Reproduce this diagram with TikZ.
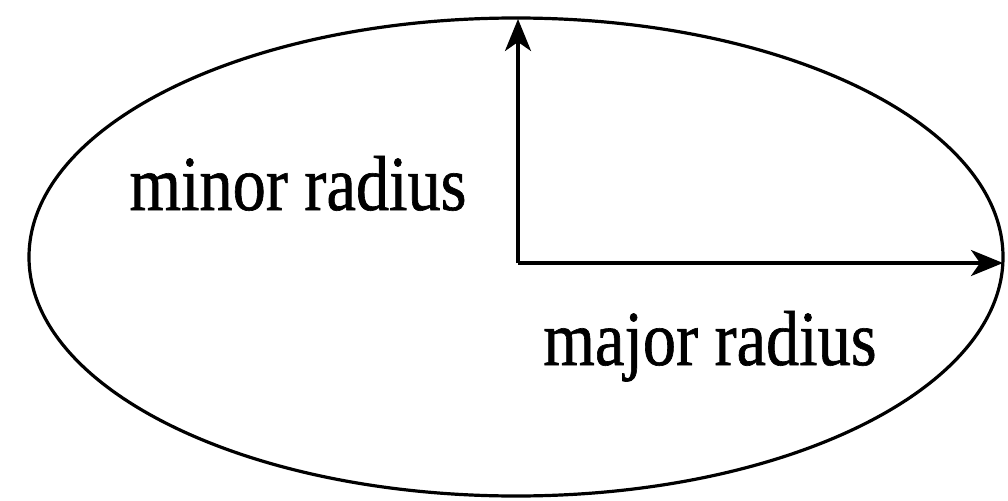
\documentclass[tikz,border=0pt]{standalone}
\usepackage{fontspec}
\setmainfont{Liberation Serif}
\newfontfamily\lblfont[FakeStretch=0.85,FakeBold=0.8]{Liberation Serif}
\usetikzlibrary{arrows.meta}
\begin{document}
\begin{tikzpicture}[x=1pt,y=-1pt,
  outline/.style={line width=3.2pt},
  radiusarrow/.style={line width=3.5pt,-{Stealth[length=32pt,width=26pt,inset=9pt]}},
  lbl/.style={font=\lblfont\fontsize{78}{80}\selectfont,anchor=base,inner sep=0pt}]
\useasboundingbox[fill=white] (0,0) rectangle (1008,500);
\draw[outline] (516,257) ellipse [x radius=487, y radius=239];
\coordinate (o) at (518,263);
\coordinate (t) at (518,19);
\coordinate (r) at (1003,263);
\draw[radiusarrow] (o) -- (t);
\draw[radiusarrow] (o) -- (r);
\node[lbl] (minor) at (298,210) {minor radius};
\node[lbl] (major) at (710,365) {major radius};
\end{tikzpicture}
\end{document}
